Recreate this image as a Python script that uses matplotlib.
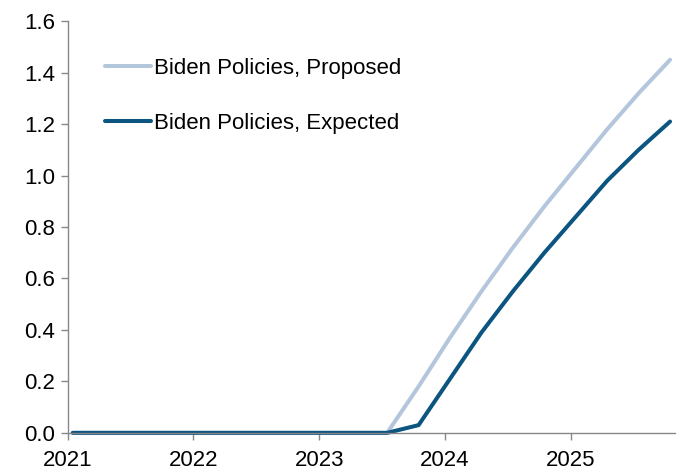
import matplotlib
matplotlib.use('Agg')
from matplotlib import pyplot as plt

plt.rcParams['font.family'] = ['Liberation Sans', 'DejaVu Sans']

# quarterly observations, as fractional years
quarters = [2021.04, 2021.29, 2021.54, 2021.79,
            2022.04, 2022.29, 2022.54, 2022.79,
            2023.04, 2023.29, 2023.54, 2023.79,
            2024.04, 2024.29, 2024.54, 2024.79,
            2025.04, 2025.29, 2025.54, 2025.79]
proposed = [0, 0, 0, 0, 0, 0, 0, 0, 0, 0, 0,
            0.18, 0.37, 0.55, 0.72, 0.88, 1.03, 1.18, 1.32, 1.45]
expected = [0, 0, 0, 0, 0, 0, 0, 0, 0, 0, 0,
            0.03, 0.21, 0.39, 0.55, 0.70, 0.84, 0.98, 1.10, 1.21]
years = [2021, 2022, 2023, 2024, 2025]
yticks = [0.0, 0.2, 0.4, 0.6, 0.8, 1.0, 1.2, 1.4, 1.6]

fig = plt.figure(figsize=(6.91, 4.71), dpi=100)
ax = fig.add_axes([0.098, 0.081, 0.879, 0.874])

ax.plot(quarters, proposed, color='#b4c6dc', lw=2.9, label='Biden Policies, Proposed',
        clip_on=False, solid_capstyle='round')
ax.plot(quarters, expected, color='#0b5580', lw=2.9, label='Biden Policies, Expected',
        clip_on=False, solid_capstyle='round')

ax.set_xlim(2021, 2025.83)
ax.set_ylim(0, 1.6)
ax.set_xticks(years)
ax.set_xticklabels([str(y) for y in years])
ax.set_yticks(yticks)
ax.set_yticklabels(['%.1f' % v for v in yticks])

for s in ['top', 'right']:
  ax.spines[s].set_visible(False)
for s in ['left', 'bottom']:
  ax.spines[s].set_color('#888888')
  ax.spines[s].set_linewidth(1.0)
ax.tick_params(axis='both', colors='#888888', labelcolor='black', labelsize=16,
               length=5, width=1.0, direction='out')
ax.tick_params(axis='x', pad=7)
ax.tick_params(axis='y', pad=4)

ax.legend(loc='upper left', bbox_to_anchor=(0.061, 0.91), frameon=False, fontsize=16,
          handlelength=2.1, handletextpad=0.12, labelspacing=1.5,
          borderpad=0, borderaxespad=0)

fig.savefig('out.png', dpi=100)
